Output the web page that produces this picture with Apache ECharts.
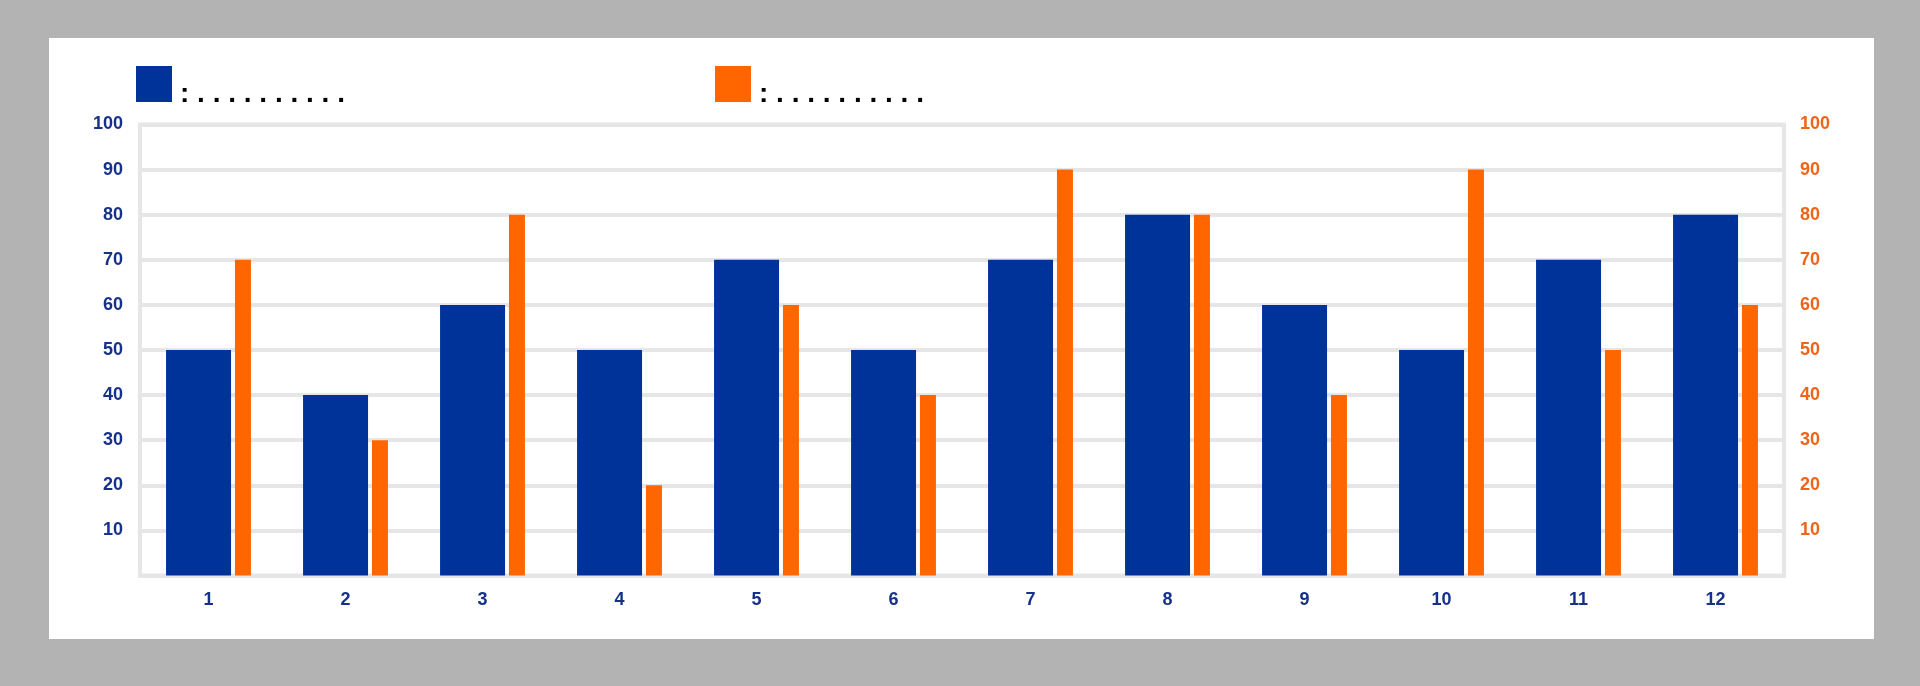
<!DOCTYPE html>
<html>
<head>
<meta charset="utf-8">
<script src="https://cdn.jsdelivr.net/npm/echarts@6/dist/echarts.min.js"></script>
<style>
html,body{margin:0;padding:0;background:#b3b3b3;}
#chart{width:1920px;height:686px;}
</style>
</head>
<body>
<div id="chart"></div>
<script>
const categories = ['1','2','3','4','5','6','7','8','9','10','11','12'];
const blueValues = [50,40,60,50,70,50,70,80,60,50,70,80];
const orangeValues = [70,30,80,20,60,40,90,80,40,90,50,60];
const yTicks = [0,10,20,30,40,50,60,70,80,90,100];
const legendText = ': . . . . . . . . . .';

const BLUE = '#003399';
const ORANGE = '#ff6600';
const NAVY = '#15318a';
const ORANGE_TXT = '#ee6418';
const GRID = '#e6e6e6';
const FONT = '"Liberation Sans", Arial, sans-serif';

const chart = echarts.init(document.getElementById('chart'));
const yMin = yTicks[0], yMax = yTicks[yTicks.length-1], yStep = yTicks[1]-yTicks[0];

const legendTextStyle = {
  color: '#000', fontSize: 28, fontWeight: 'bold', fontFamily: FONT,
  rich: {d: {color: '#000', fontSize: 28, fontWeight: 'bold', fontFamily: FONT, padding: [20, 0, 0, 3]}}
};

chart.setOption({
  backgroundColor: '#b3b3b3',
  animation: false,
  graphic: [{
    type: 'rect', z: -10, silent: true,
    shape: {x: 49, y: 38, width: 1825, height: 601},
    style: {fill: '#ffffff'}
  }],
  legend: [
    {
      data: ['A'], left: 131, top: 61, icon: 'rect',
      itemWidth: 36, itemHeight: 36, selectedMode: false,
      formatter: () => '{d|' + legendText + '}',
      textStyle: legendTextStyle
    },
    {
      data: ['B'], left: 710, top: 61, icon: 'rect',
      itemWidth: 36, itemHeight: 36, selectedMode: false,
      formatter: () => '{d|' + legendText + '}',
      textStyle: legendTextStyle
    }
  ],
  grid: {
    left: 140, right: 136, top: 124.5, bottom: 110.5,
    show: true, borderColor: GRID, borderWidth: 4, backgroundColor: 'transparent'
  },
  xAxis: {
    type: 'category', data: categories,
    axisLine: {show: true, lineStyle: {color: GRID, width: 4}},
    axisTick: {show: false},
    axisLabel: {color: NAVY, fontSize: 18, fontWeight: 'bold', fontFamily: FONT, margin: 16}
  },
  yAxis: [
    {
      type: 'value', min: yMin, max: yMax, interval: yStep, position: 'left',
      axisLine: {show: false}, axisTick: {show: false},
      splitLine: {show: true, lineStyle: {color: GRID, width: 4}},
      axisLabel: {color: NAVY, fontSize: 18, fontWeight: 'bold', fontFamily: FONT, margin: 17, showMinLabel: false}
    },
    {
      type: 'value', min: yMin, max: yMax, interval: yStep, position: 'right',
      axisLine: {show: false}, axisTick: {show: false},
      splitLine: {show: false},
      axisLabel: {color: ORANGE_TXT, fontSize: 18, fontWeight: 'bold', fontFamily: FONT, margin: 16, showMinLabel: false}
    }
  ],
  series: [
    {
      name: 'A', type: 'bar', data: blueValues, yAxisIndex: 0,
      barWidth: 65, itemStyle: {color: BLUE}
    },
    {
      name: 'B', type: 'bar', data: orangeValues, yAxisIndex: 1,
      barWidth: 16, barGap: '6%', itemStyle: {color: ORANGE}
    }
  ]
});
</script>
</body>
</html>
